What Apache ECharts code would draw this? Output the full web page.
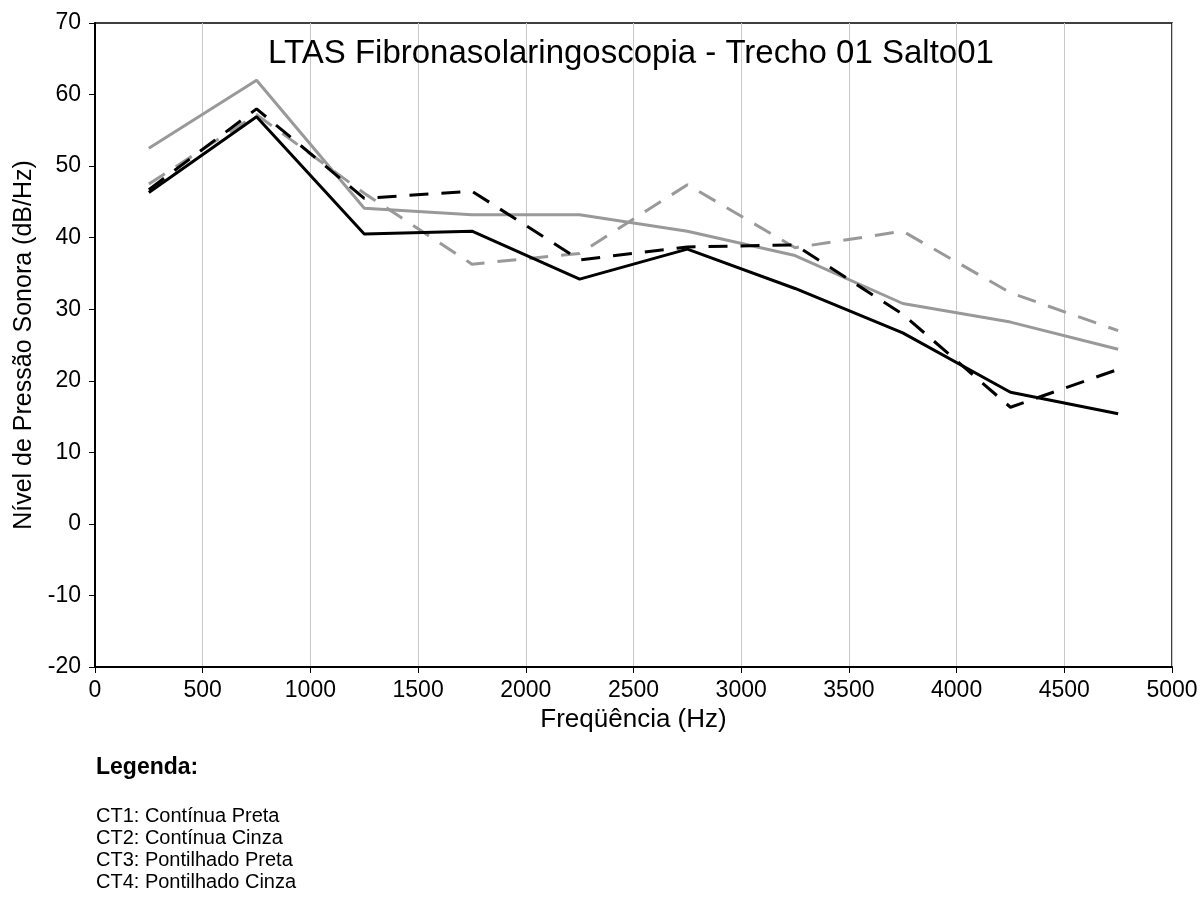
<!DOCTYPE html>
<html>
<head>
<meta charset="utf-8">
<script src="https://cdn.jsdelivr.net/npm/echarts@6/dist/echarts.min.js"></script>
<style>
  html, body { margin: 0; padding: 0; background: #fff; }
  #chart { width: 1201px; height: 901px; }
</style>
</head>
<body>
<div id="chart"></div>
<script>
// Frequency bands (Hz) – centre of each 500 Hz band
const freqs = [250, 750, 1250, 1750, 2250, 2750, 3250, 3750, 4250, 4750];

// Sound pressure level (dB/Hz) per condition
const ct1 = [46.3, 56.9, 40.5, 40.9, 34.2, 38.4, 32.9, 26.7, 18.4, 15.4]; // Contínua Preta
const ct2 = [52.5, 62.0, 44.1, 43.2, 43.2, 40.9, 37.5, 30.8, 28.2, 24.4]; // Contínua Cinza
const ct3 = [46.7, 58.0, 45.5, 46.5, 36.9, 38.7, 39.0, 29.3, 16.3, 21.6]; // Pontilhado Preta
const ct4 = [47.5, 57.2, 46.2, 36.3, 37.8, 47.4, 38.6, 40.9, 32.3, 27.0]; // Pontilhado Cinza

const legendLines = [
  'CT1: Contínua Preta',
  'CT2: Contínua Cinza',
  'CT3: Pontilhado Preta',
  'CT4: Pontilhado Cinza'
];

const FONT = '"Liberation Sans", Arial, sans-serif';
const pair = arr => freqs.map((f, i) => [f, arr[i]]);

function lineSeries(name, data, color, dashed) {
  return {
    name, type: 'line', data: pair(data), symbol: 'none', smooth: false,
    lineStyle: { color, width: 3, type: dashed ? [19, 13] : 'solid' },
    animation: false
  };
}

const chart = echarts.init(document.getElementById('chart'));
chart.setOption({
  backgroundColor: '#fff',
  title: [
    { text: 'LTAS Fibronasolaringoscopia - Trecho 01 Salto01', left: 631, top: 37, padding: 0, textAlign: 'center',
      textStyle: { fontFamily: FONT, fontSize: 33, fontWeight: 'normal', color: '#000' } },
    { text: 'Legenda:', left: 96, top: 756, padding: 0,
      textStyle: { fontFamily: FONT, fontSize: 23, fontWeight: 'bold', color: '#000' } },
    { text: legendLines.join('\n'), left: 96, top: 805, padding: 0,
      textStyle: { fontFamily: FONT, fontSize: 20, fontWeight: 'normal', color: '#000', lineHeight: 22 } }
  ],
  grid: { left: 95, right: 29, top: 23, bottom: 234, show: true, borderColor: '#000', borderWidth: 1.5 },
  xAxis: {
    type: 'value', min: 0, max: 5000, interval: 500,
    name: 'Freqüência (Hz)', nameLocation: 'middle', nameGap: 40,
    nameTextStyle: { fontFamily: FONT, fontSize: 26, color: '#000' },
    axisLine: { show: true, onZero: false, lineStyle: { color: '#000', width: 2 } },
    axisTick: { show: true, length: 6, lineStyle: { color: '#000' } },
    axisLabel: { fontFamily: FONT, fontSize: 23, color: '#000', margin: 12, formatter: v => String(v) },
    splitLine: { show: true, lineStyle: { color: '#c8c8c8', width: 1 } }
  },
  yAxis: {
    type: 'value', min: -20, max: 70, interval: 10,
    name: 'Nível de Pressão Sonora (dB/Hz)', nameLocation: 'middle', nameGap: 56, nameRotate: 90,
    nameTextStyle: { fontFamily: FONT, fontSize: 25, color: '#000' },
    axisLine: { show: true, onZero: false, lineStyle: { color: '#000', width: 2 } },
    axisTick: { show: true, length: 6, lineStyle: { color: '#000' } },
    axisLabel: { fontFamily: FONT, fontSize: 23, color: '#000', margin: 14, formatter: v => String(v) },
    splitLine: { show: false }
  },
  series: [
    lineSeries('CT2', ct2, '#999999', false),
    lineSeries('CT4', ct4, '#999999', true),
    lineSeries('CT3', ct3, '#000000', true),
    lineSeries('CT1', ct1, '#000000', false)
  ]
});
</script>
</body>
</html>
